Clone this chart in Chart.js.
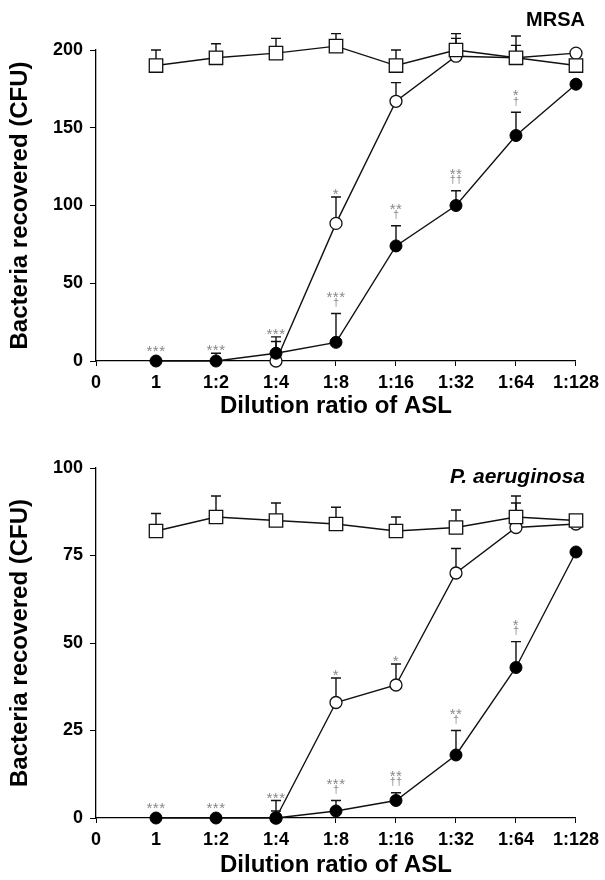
<!DOCTYPE html>
<html>
<head>
<meta charset="utf-8">
<script src="https://cdn.jsdelivr.net/npm/chart.js@4.4.1/dist/chart.umd.min.js"></script>
<style>
  body { margin: 0; background: #fff; }
  .panel { position: absolute; left: 0; width: 605px; height: 440px; }
</style>
</head>
<body>
<div class="panel" style="top:0"><canvas id="mrsa" width="605" height="440"></canvas></div>
<div class="panel" style="top:440px"><canvas id="pa" width="605" height="440"></canvas></div>
<script>
var xTickLabels = ["0", "1", "1:2", "1:4", "1:8", "1:16", "1:32", "1:64", "1:128"];
var dilutions = [1, 2, 3, 4, 5, 6, 7, 8];

// MRSA panel
var mrsaControl = [190, 195, 198, 202.5, 190, 200, 195, 190];
var mrsaControlSd = [10, 9, 9.5, 8, 10, 10.5, 14, 0];
var mrsaOpen = [null, null, 0, 88.5, 167, 196, 195, 198];
var mrsaOpenSd = [0, 0, 12.5, 17, 12, 11.5, 8, 0];
var mrsaFilled = [0, 0, 5, 12, 74, 100, 145, 178];
var mrsaFilledSd = [0, 5, 10.5, 18.5, 13, 9.5, 15, 0];
var mrsaOpenMarks = ["", "", "", "*", "", "", "", ""];
var mrsaFilledMarks = ["***", "***", "***", "***|\u2020", "**|\u2020", "**|\u2020\u2020", "*|\u2020", ""];

// P. aeruginosa panel
var paControl = [82, 86, 85, 84, 82, 83, 86, 85];
var paControlSd = [5, 6, 5, 4.8, 4, 5, 6, 0];
var paOpen = [null, null, 0, 33, 38, 70, 83, 84];
var paOpenSd = [0, 0, 2, 7, 6, 7, 7, 0];
var paFilled = [0, 0, 0, 2, 5, 18, 43, 76];
var paFilledSd = [0, 0, 5, 3, 2.2, 7, 7.4, 0];
var paOpenMarks = ["", "", "", "*", "*", "", "", ""];
var paFilledMarks = ["***", "***", "***", "***|\u2020", "**|\u2020\u2020", "**|\u2020", "*|\u2020", ""];

Chart.defaults.font.family = "'Liberation Sans', Arial, Helvetica, sans-serif";
Chart.defaults.color = "#000";

function points(values) {
  return dilutions.map(function (d, i) { return { x: d, y: values[i] }; });
}

var errorBars = {
  id: "errorBars",
  beforeDatasetsDraw: function (chart) {
    var ctx = chart.ctx;
    var xs = chart.scales.x, ys = chart.scales.y;
    ctx.save();
    ctx.strokeStyle = "#111";
    ctx.lineWidth = 1.4;
    chart.data.datasets.forEach(function (ds) {
      ds.sd.forEach(function (sd, i) {
        var v = ds.data[i].y;
        if (v === null || !sd) return;
        var x = xs.getPixelForValue(ds.data[i].x);
        var y0 = ys.getPixelForValue(v);
        var y1 = ys.getPixelForValue(v + sd);
        ctx.beginPath();
        ctx.moveTo(x, y0);
        ctx.lineTo(x, y1);
        ctx.moveTo(x - 5, y1);
        ctx.lineTo(x + 5, y1);
        ctx.stroke();
      });
    });
    ctx.restore();
  },
  afterDatasetsDraw: function (chart) {
    var ctx = chart.ctx;
    var xs = chart.scales.x, ys = chart.scales.y;
    ctx.save();
    ctx.fillStyle = "#888";
    ctx.textAlign = "center";
    ctx.textBaseline = "alphabetic";
    chart.data.datasets.forEach(function (ds) {
      if (!ds.marks) return;
      ds.marks.forEach(function (m, i) {
        if (!m) return;
        var v = ds.data[i].y;
        var x = xs.getPixelForValue(ds.data[i].x);
        var anchor = ds.sd[i] ? ys.getPixelForValue(v + ds.sd[i]) : ys.getPixelForValue(v) - 7;
        var parts = m.split("|");
        var stars = parts[0], dag = parts[1];
        var starY = dag ? anchor - 20 : anchor - 6;
        ctx.font = "15px 'Liberation Sans', Arial, sans-serif";
        if ("letterSpacing" in ctx) ctx.letterSpacing = "0.5px";
        ctx.fillText(stars, x, starY + 8);
        if (dag) {
          ctx.font = "11px 'Liberation Sans', Arial, sans-serif";
          if ("letterSpacing" in ctx) ctx.letterSpacing = "0px";
          ctx.fillText(dag, x, anchor - 11 + 3.5);
        }
      });
    });
    ctx.restore();
  },
  afterDraw: function (chart, args, opts) {
    var ctx = chart.ctx;
    ctx.save();
    ctx.fillStyle = "#000";
    ctx.textAlign = "right";
    ctx.textBaseline = "middle";
    ctx.font = (opts.italic ? "italic " : "") + "bold " + opts.size + "px 'Liberation Sans', Arial, sans-serif";
    ctx.fillText(opts.text, 585, opts.y);
    ctx.restore();
  }
};

function makeChart(id, control, controlSd, open, openSd, openMarks, filled, filledSd, filledMarks, cfg) {
  return new Chart(document.getElementById(id), {
    type: "scatter",
    data: {
      datasets: [{
        data: points(control), sd: controlSd,
        showLine: true, borderColor: "#111", borderWidth: 1.4,
        pointStyle: "rect", pointRadius: 9.5, pointBackgroundColor: "#fff",
        pointBorderColor: "#111", pointBorderWidth: 1.3, clip: false
      }, {
        data: points(filled), sd: filledSd, marks: filledMarks,
        showLine: true, borderColor: "#111", borderWidth: 1.4,
        pointStyle: "circle", pointRadius: 6, pointBackgroundColor: "#000",
        pointBorderColor: "#000", pointBorderWidth: 1, clip: false
      }, {
        data: points(open), sd: openSd, marks: openMarks,
        showLine: true, borderColor: "#111", borderWidth: 1.4,
        pointStyle: "circle", pointRadius: 6, pointBackgroundColor: "#fff",
        pointBorderColor: "#111", pointBorderWidth: 1.3, clip: false
      }]
    },
    options: {
      responsive: false,
      animation: false,
      layout: { padding: { left: 6, right: 26, top: cfg.top, bottom: cfg.bottom } },
      plugins: {
        legend: { display: false },
        tooltip: { enabled: false },
        errorBars: { text: cfg.label, italic: cfg.italic, size: cfg.labelSize, y: cfg.labelY }
      },
      scales: {
        x: {
          type: "linear", min: 0, max: 8,
          afterFit: function (s) { s.height = cfg.xHeight; },
          ticks: {
            stepSize: 1, autoSkip: false, padding: 6,
            font: { size: 18, weight: "bold" },
            callback: function (v) { return xTickLabels[v]; }
          },
          grid: { display: true, drawOnChartArea: false, drawTicks: true, tickLength: 5, color: "#000" },
          border: { display: true, color: "#000", width: 1.3 },
          title: { display: true, text: "Dilution ratio of ASL", padding: 0, font: { size: 24, weight: "bold" } }
        },
        y: {
          min: 0, max: cfg.yMax,
          afterFit: function (s) { s.width = 90; },
          ticks: { stepSize: cfg.yStep, padding: 7, font: { size: 18, weight: "bold" } },
          grid: { display: true, drawOnChartArea: false, drawTicks: true, tickLength: 6, color: "#000" },
          border: { display: true, color: "#000", width: 1.3 },
          title: { display: true, text: "Bacteria recovered (CFU)", padding: 0, font: { size: 24, weight: "bold" } }
        }
      }
    },
    plugins: [errorBars]
  });
}

makeChart("mrsa", mrsaControl, mrsaControlSd, mrsaOpen, mrsaOpenSd, mrsaOpenMarks,
  mrsaFilled, mrsaFilledSd, mrsaFilledMarks,
  { top: 50, bottom: 19.6, xHeight: 59.4, yMax: 200, yStep: 50, label: "MRSA", italic: false, labelSize: 20, labelY: 20 });

makeChart("pa", paControl, paControlSd, paOpen, paOpenSd, paOpenMarks,
  paFilled, paFilledSd, paFilledMarks,
  { top: 28, bottom: 0.6, xHeight: 61.4, yMax: 100, yStep: 25, label: "P. aeruginosa", italic: true, labelSize: 21, labelY: 37.5 });
</script>
</body>
</html>
